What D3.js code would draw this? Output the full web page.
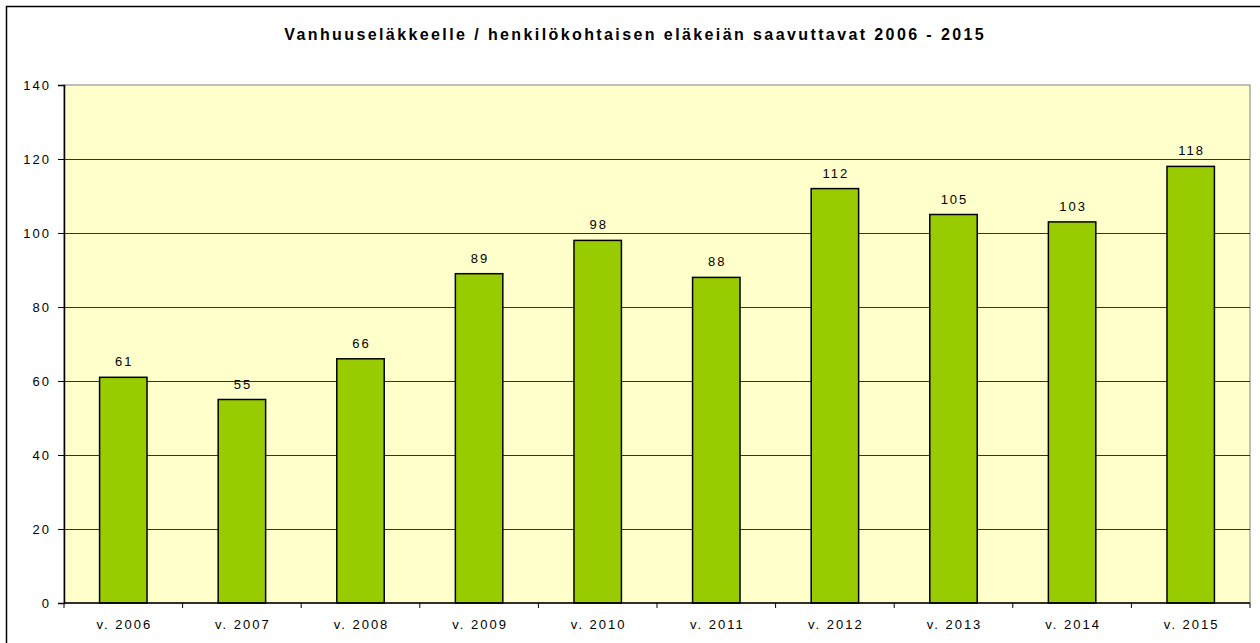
<!DOCTYPE html>
<html>
<head>
<meta charset="utf-8">
<script src="https://cdn.jsdelivr.net/npm/d3@7"></script>
<style>
  body { margin: 0; background: #fff; }
  text { font-family: "Liberation Sans", Arial, sans-serif; }
</style>
</head>
<body>
<div id="chart"></div>
<script>
// chart data
const years = ["v. 2006", "v. 2007", "v. 2008", "v. 2009", "v. 2010", "v. 2011", "v. 2012", "v. 2013", "v. 2014", "v. 2015"];
const counts = [61, 55, 66, 89, 98, 88, 112, 105, 103, 118];
const yTicks = [0, 20, 40, 60, 80, 100, 120, 140];
const title = "Vanhuuseläkkeelle / henkilökohtaisen eläkeiän saavuttavat 2006 - 2015";

const W = 1260, H = 643;
const margin = {top: 85, right: 10, bottom: 40, left: 64};
const width = W - margin.left - margin.right;
const height = 603 - margin.top;
const ls = 2; // letter spacing of the small labels

const svg = d3.select("#chart").append("svg")
    .attr("width", W)
    .attr("height", H);

// outer frame
svg.append("rect")
    .attr("x", 6.5).attr("y", 6.5)
    .attr("width", W + 10).attr("height", H + 10)
    .attr("fill", "none")
    .attr("stroke", "#000")
    .attr("stroke-width", 1.5);

svg.append("text")
    .attr("x", 634 + 1.2)
    .attr("y", 40)
    .attr("text-anchor", "middle")
    .attr("font-size", "16px")
    .attr("font-weight", "bold")
    .attr("letter-spacing", "2.4px")
    .text(title);

const g = svg.append("g")
    .attr("transform", `translate(${margin.left},${margin.top})`);

const x = d3.scaleBand().domain(years).range([0, width])
    .paddingInner(0.6).paddingOuter(0.3);
const y = d3.scaleLinear().domain([0, 140]).range([height, 0]);

// plot background
g.append("rect")
    .attr("width", width).attr("height", height)
    .attr("fill", "#FFFFCC")
    .attr("stroke", "#808080");

// gridlines
g.selectAll(".grid")
    .data(yTicks.filter(d => d > 0 && d < 140))
    .enter().append("line")
    .attr("class", "grid")
    .attr("x1", 0).attr("x2", width)
    .attr("y1", d => Math.round(y(d)) + 0.5)
    .attr("y2", d => Math.round(y(d)) + 0.5)
    .attr("stroke", "#000")
    .attr("stroke-width", 0.8);

// bars
g.selectAll(".bar")
    .data(counts)
    .enter().append("rect")
    .attr("class", "bar")
    .attr("x", (d, i) => x(years[i]))
    .attr("y", d => y(d))
    .attr("width", x.bandwidth())
    .attr("height", d => height - y(d))
    .attr("fill", "#99CC00")
    .attr("stroke", "#000")
    .attr("stroke-width", 1.5);

// value labels
g.selectAll(".val")
    .data(counts)
    .enter().append("text")
    .attr("class", "val")
    .attr("x", (d, i) => x(years[i]) + x.bandwidth() / 2 + ls / 2)
    .attr("y", d => y(d) - 11)
    .attr("text-anchor", "middle")
    .attr("font-size", "13px")
    .attr("letter-spacing", ls + "px")
    .text(d => d);

// y axis
const yAxis = g.append("g")
    .call(d3.axisLeft(y).tickValues(yTicks).tickSize(6).tickPadding(7));
yAxis.select(".domain").attr("stroke", "#000").attr("stroke-width", 1.5);
yAxis.selectAll("text").attr("font-size", "13px").attr("letter-spacing", ls + "px")
    .attr("font-family", "Liberation Sans, Arial, sans-serif");

// x axis with ticks between categories
const xAxis = g.append("g")
    .attr("transform", `translate(0,${height})`);
xAxis.append("line")
    .attr("x1", 0).attr("x2", width)
    .attr("y1", 0).attr("y2", 0)
    .attr("stroke", "#000").attr("stroke-width", 1.5);
const bounds = d3.range(years.length + 1).map(i => i * x.step());
xAxis.selectAll(".xtick")
    .data(bounds)
    .enter().append("line")
    .attr("x1", d => d).attr("x2", d => d)
    .attr("y1", 0).attr("y2", 5)
    .attr("stroke", "#000").attr("stroke-width", 1);
xAxis.selectAll(".xlab")
    .data(years)
    .enter().append("text")
    .attr("x", d => x(d) + x.bandwidth() / 2 + ls / 2)
    .attr("y", 26)
    .attr("text-anchor", "middle")
    .attr("font-size", "13px")
    .attr("letter-spacing", ls + "px")
    .text(d => d);
</script>
</body>
</html>
